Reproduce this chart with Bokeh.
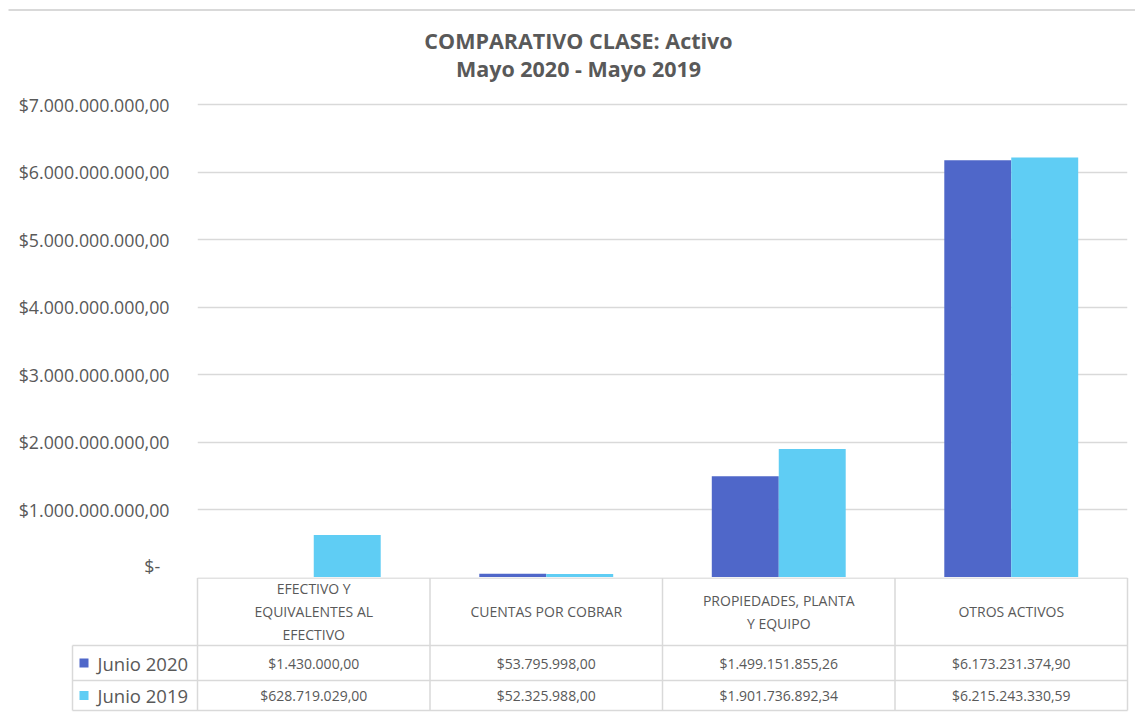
from bokeh.plotting import figure
from bokeh.models import FactorRange, Range1d, FixedTicker, ColumnDataSource
from bokeh.transform import dodge
from bokeh.layouts import column
from bokeh.core.properties import value
from bokeh.embed import file_html
from bokeh.resources import INLINE

# ---------------- data ----------------
title_lines = ["COMPARATIVO CLASE: Activo", "Mayo 2020 - Mayo 2019"]
categories = ["EFECTIVO Y\nEQUIVALENTES AL\nEFECTIVO", "CUENTAS POR COBRAR",
              "PROPIEDADES, PLANTA\nY EQUIPO", "OTROS ACTIVOS"]
series_names = ["Junio 2020", "Junio 2019"]
junio_2020 = [1430000.00, 53795998.00, 1499151855.26, 6173231374.90]
junio_2019 = [628719029.00, 52325988.00, 1901736892.34, 6215243330.59]
yticks = [0, 1e9, 2e9, 3e9, 4e9, 5e9, 6e9, 7e9]

# ---------------- style ----------------
FONT = "Open Sans"
TXT = "#595959"
GRID = "#d9d9d9"
C2020 = "#4F67C9"
C2019 = "#5FCDF4"
W = 1135


def money(v):
    s = f"{v:,.2f}"
    s = s.replace(",", "X").replace(".", ",").replace("X", ".")
    return "$" + s


ytick_labels = {t: ("$-\u00a0\u00a0" if t == 0 else money(t)) for t in yticks}

# ---------------- title strip ----------------
TH = 84
tf = figure(width=W, height=TH, x_range=Range1d(0, W), y_range=Range1d(0, TH),
            output_backend="svg", toolbar_location=None, title=None,
            min_border=0, x_axis_type=None, y_axis_type=None)
tf.frame_align = False
tf.outline_line_color = None
tf.grid.grid_line_color = None
tf.segment(x0=[8], y0=[TH - 9.5], x1=[W], y1=[TH - 9.5], line_color=GRID, line_width=2)
tf.text(x=[578, 578], y=[TH - 40, TH - 68], text=title_lines, text_align="center",
        text_baseline="middle", text_font=value(FONT), text_font_size="21.5px",
        text_font_style="bold", text_color=TXT)

# ---------------- top: bar chart ----------------
src = ColumnDataSource(dict(cat=categories, y2020=junio_2020, y2019=junio_2019))

PLOT_H = 473          # pixels from 0 to the top tick
TOP_EXTRA = 4         # small headroom so the top gridline is not clipped
p = figure(width=W, height=577 - TH,
           x_range=FactorRange(factors=categories, range_padding=0),
           y_range=Range1d(0, yticks[-1] * (1 + TOP_EXTRA / PLOT_H)),
           output_backend="svg", toolbar_location=None,
           title=None, min_border_left=197, min_border_right=8,
           min_border_top=577 - TH - PLOT_H - TOP_EXTRA, min_border_bottom=0,
           x_axis_type=None)
p.frame_align = False
p.outline_line_color = None
p.xgrid.grid_line_color = None
p.ygrid.grid_line_color = GRID
p.ygrid.grid_line_width = 1.5
p.yaxis.ticker = FixedTicker(ticks=yticks)
p.yaxis.major_label_overrides = ytick_labels
p.yaxis.axis_line_color = None
p.yaxis.major_tick_line_color = None
p.yaxis.minor_tick_line_color = None
p.yaxis.major_label_standoff = 22
p.yaxis.major_label_text_font = FONT
p.yaxis.major_label_text_font_size = "17.8px"
p.yaxis.major_label_text_color = TXT

bw = 0.288
p.vbar(x=dodge("cat", -bw / 2, range=p.x_range), top="y2020", width=bw, source=src,
       fill_color=C2020, line_color=None)
p.vbar(x=dodge("cat", bw / 2, range=p.x_range), top="y2019", width=bw, source=src,
       fill_color=C2019, line_color=None)

# ---------------- bottom: data table ----------------
LW = 125 / 232.5      # width of legend column (category units)
PAD = 3 / 232.5
q = figure(width=W, height=135, x_range=Range1d(-LW - PAD, 4 + PAD), y_range=Range1d(0, 135),
           output_backend="svg", toolbar_location=None, title=None,
           min_border_left=69, min_border_right=5,
           min_border_top=0, min_border_bottom=0, x_axis_type=None, y_axis_type=None)
q.frame_align = False
q.outline_line_color = None
q.grid.grid_line_color = None

n = len(categories)
y_head_top, y_head_bot, y_row1_bot, y_bottom = 134.5, 67, 32, 2
# horizontal rules
hx0 = [0, -LW, -LW, -LW]
hx1 = [n, n, n, n]
hy = [y_head_top, y_head_bot, y_row1_bot, y_bottom]
q.segment(x0=hx0, y0=hy, x1=hx1, y1=hy, line_color=GRID, line_width=1.5)
# vertical rules
vx = [-LW] + list(range(n + 1))
vy0 = [y_bottom] * len(vx)
vy1 = [y_head_bot] + [y_head_top] * (n + 1)
q.segment(x0=vx, y0=vy0, x1=vx, y1=vy1, line_color=GRID, line_width=1.5)

cx = [i + 0.5 for i in range(n)]
q.text(x=cx, y=[(y_head_top + y_head_bot) / 2] * n, text=categories, text_align="center",
       text_baseline="middle", text_font=value(FONT), text_font_size="14px",
       text_color=TXT, text_line_height=1.22)
q.text(x=cx, y=[(y_head_bot + y_row1_bot) / 2] * n, text=[money(v) for v in junio_2020],
       text_align="center", text_baseline="middle", text_font=value(FONT),
       text_font_size="14px", text_color=TXT)
q.text(x=cx, y=[(y_row1_bot + y_bottom) / 2] * n, text=[money(v) for v in junio_2019],
       text_align="center", text_baseline="middle", text_font=value(FONT),
       text_font_size="14px", text_color=TXT)

ly = [(y_head_bot + y_row1_bot) / 2, (y_row1_bot + y_bottom) / 2]
q.scatter(x=[-LW + 11.5 / 232.5] * 2, y=ly, marker="square", size=9,
          fill_color=[C2020, C2019], line_color=None)
q.text(x=[-LW + 25 / 232.5] * 2, y=ly, text=series_names, text_align="left",
       text_baseline="middle", text_font=value(FONT), text_font_size="18.5px", text_color=TXT)

layout = column(tf, p, q, spacing=0)
open("out.html", "w").write(file_html(layout, INLINE))
